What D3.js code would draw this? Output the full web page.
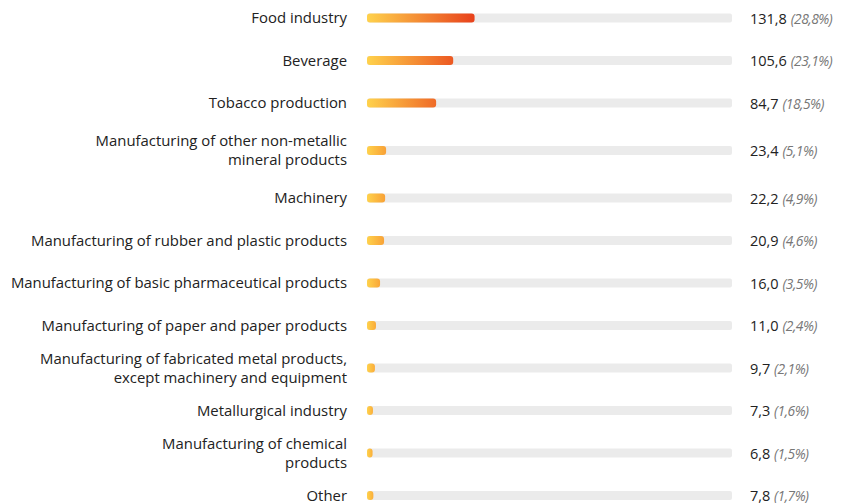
<!DOCTYPE html>
<html>
<head>
<meta charset="utf-8">
<script src="https://cdn.jsdelivr.net/npm/d3@7"></script>
<style>
  html, body { margin: 0; padding: 0; background: #fff; }
  svg { display: block; font-family: "Segoe UI", "Open Sans", "Noto Sans", sans-serif; }
</style>
</head>
<body>
<svg id="chart" width="842" height="503"></svg>
<script>
const categories = [
  "Food industry",
  "Beverage",
  "Tobacco production",
  "Manufacturing of other non-metallic\nmineral products",
  "Machinery",
  "Manufacturing of rubber and plastic products",
  "Manufacturing of basic pharmaceutical products",
  "Manufacturing of paper and paper products",
  "Manufacturing of fabricated metal products,\nexcept machinery and equipment",
  "Metallurgical industry",
  "Manufacturing of chemical\nproducts",
  "Other"
];
const values = [131.8, 105.6, 84.7, 23.4, 22.2, 20.9, 16.0, 11.0, 9.7, 7.3, 6.8, 7.8];
const shares = [28.8, 23.1, 18.5, 5.1, 4.9, 4.6, 3.5, 2.4, 2.1, 1.6, 1.5, 1.7];

const fmt = v => d3.format(".1f")(v).replace(".", ",");
const total = d3.sum(values); // full track = total of all values
const maxV = d3.max(values);

const svg = d3.select("#chart");
const defs = svg.append("defs");

// row layout: uniform step, the first two-line row gets extra room
const step = 42.5, extraRow = 3, extra = 5;
const rowCenters = [];
let yy = 18;
categories.forEach((c, i) => {
  if (i === extraRow || i === extraRow + 1) yy += extra;
  rowCenters.push(yy);
  yy += step;
});

const x = d3.scaleLinear().domain([0, total]).range([367, 732]);
const barH = 9;

const endColor = d3.scaleLinear().domain([0, maxV]).range(["#FBB43C", "#E8411B"]).interpolate(d3.interpolateRgb);

const rows = svg.selectAll("g.row")
  .data(categories.map((c, i) => ({ c, v: values[i], s: shares[i], i })))
  .join("g")
  .attr("class", "row")
  .attr("transform", d => `translate(0,${rowCenters[d.i]})`);

// track
rows.append("rect")
  .attr("x", x(0))
  .attr("y", -barH / 2)
  .attr("width", x(total) - x(0))
  .attr("height", barH)
  .attr("rx", 2)
  .attr("fill", "#EBEBEB");

// gradients per bar
rows.each(function(d) {
  const g = defs.append("linearGradient")
    .attr("id", "grad" + d.i)
    .attr("x1", "0%").attr("x2", "100%").attr("y1", "0%").attr("y2", "0%");
  g.append("stop").attr("offset", "0%").attr("stop-color", "#FFD24C");
  g.append("stop").attr("offset", "100%").attr("stop-color", endColor(d.v));
});

rows.append("rect")
  .attr("x", x(0))
  .attr("y", -barH / 2)
  .attr("width", d => x(d.v) - x(0))
  .attr("height", barH)
  .attr("rx", 3)
  .attr("fill", d => `url(#grad${d.i})`);

// labels
const lineH = 19;
rows.append("text")
  .attr("text-anchor", "end")
  .attr("font-size", 14.9)
  .attr("fill", "#222")
  .each(function(d) {
    const lines = d.c.split("\n");
    const t = d3.select(this);
    lines.forEach((ln, k) => {
      t.append("tspan")
        .attr("x", 347)
        .attr("y", 5 + (k - (lines.length - 1) / 2) * lineH)
        .text(ln);
    });
  });

// values
const vt = rows.append("text")
  .attr("x", 750)
  .attr("y", 5.5)
  .attr("font-size", 14.5);
vt.append("tspan").attr("fill", "#222").text(d => fmt(d.v) + " ");
vt.append("tspan").attr("fill", "#777").attr("font-style", "italic")
  .attr("font-size", 13.8).attr("letter-spacing", -0.5)
  .text(d => "(" + fmt(d.s) + "%)");
</script>
</body>
</html>
